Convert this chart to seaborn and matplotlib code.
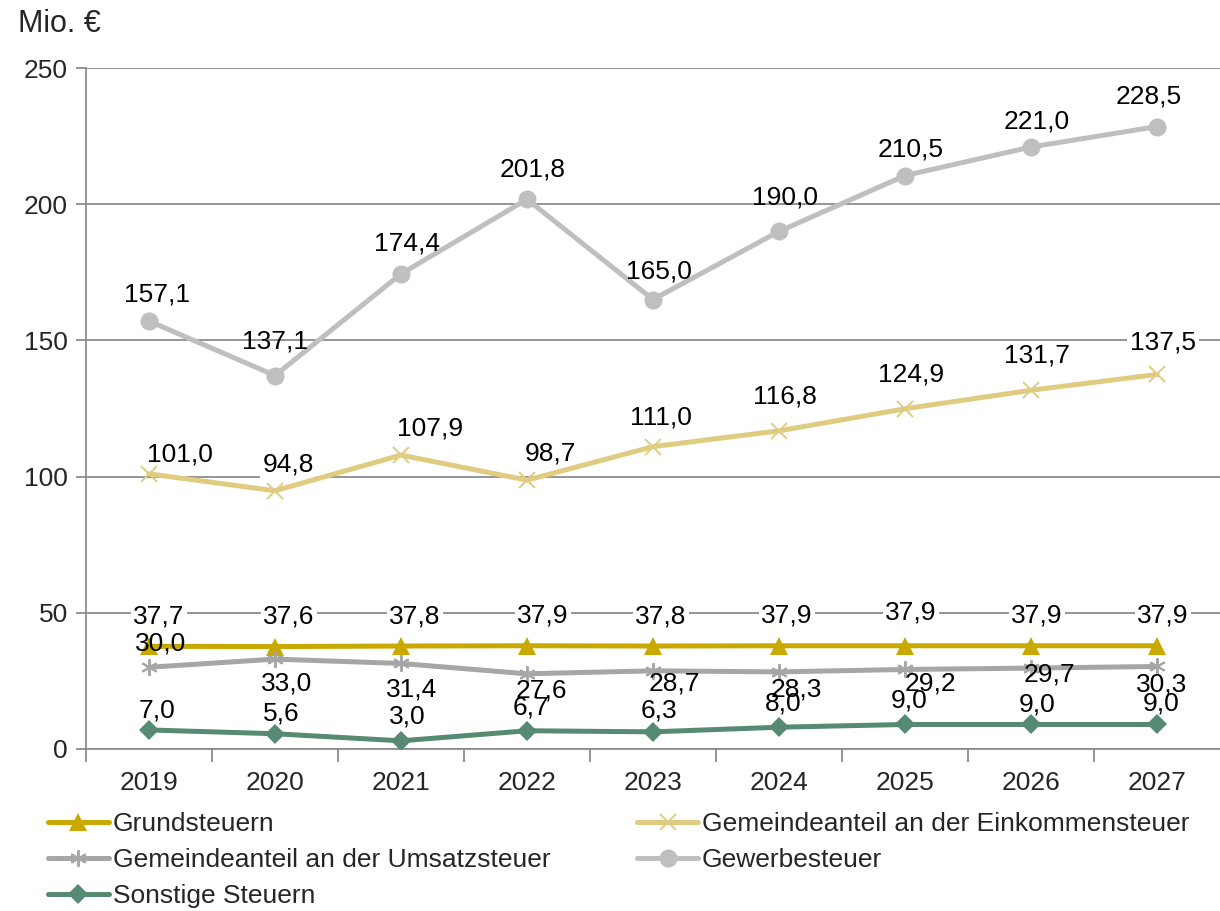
import matplotlib

matplotlib.use("Agg")
import matplotlib.pyplot as plt
import pandas as pd
import seaborn as sns

# Data
years = ["2019", "2020", "2021", "2022", "2023", "2024", "2025", "2026", "2027"]
grundsteuern = [37.7, 37.6, 37.8, 37.9, 37.8, 37.9, 37.9, 37.9, 37.9]
einkommensteuer = [101.0, 94.8, 107.9, 98.7, 111.0, 116.8, 124.9, 131.7, 137.5]
umsatzsteuer = [30.0, 33.0, 31.4, 27.6, 28.7, 28.3, 29.2, 29.7, 30.3]
gewerbesteuer = [157.1, 137.1, 174.4, 201.8, 165.0, 190.0, 210.5, 221.0, 228.5]
sonstige = [7.0, 5.6, 3.0, 6.7, 6.3, 8.0, 9.0, 9.0, 9.0]
series_names = [
    "Grundsteuern",
    "Gemeindeanteil an der Einkommensteuer",
    "Gemeindeanteil an der Umsatzsteuer",
    "Gewerbesteuer",
    "Sonstige Steuern",
]

# styles: color, marker, markersize, white label background
styles = {
    "Grundsteuern": ("#C9A800", "^", 13, True),
    "Gemeindeanteil an der Einkommensteuer": ("#E0CC80", "x", 11, True),
    "Gemeindeanteil an der Umsatzsteuer": ("#A6A6A6", (6, 2, 0), 12, False),
    "Gewerbesteuer": ("#BFBFBF", "o", 13, False),
    "Sonstige Steuern": ("#578A72", "D", 10, False),
}

# data label offsets in pixels (dx, dy), dy positive = up
label_dx = {
    "Grundsteuern": [10, 14, 14, 16, 8, 8, 6, 6, 6],
    "Gemeindeanteil an der Einkommensteuer": [31, 13, 29, 23, 8, 6, 6, 6, 6],
    "Gemeindeanteil an der Umsatzsteuer": [12, 12, 11, 14, 21, 17, 25, 18, 5],
    "Gewerbesteuer": [8, 0, 6, 6, 6, 6, 6, 6, -8],
    "Sonstige Steuern": [8, 6, 6, 4, 6, 4, 4, 6, 4],
}
label_dy = {
    "Grundsteuern": [30, 30, 30, 30, 30, 30, 33, 30, 30],
    "Gemeindeanteil an der Einkommensteuer": [19, 26, 27, 27, 29, 34, 34, 35, 32],
    "Gemeindeanteil an der Umsatzsteuer": [24, -24, -26, -17, -13, -18, -14, -6, -18],
    "Gewerbesteuer": [27, 34, 30, 30, 28, 34, 26, 25, 30],
    "Sonstige Steuern": [19, 20, 24, 23, 21, 24, 24, 20, 21],
}

values = [grundsteuern, einkommensteuer, umsatzsteuer, gewerbesteuer, sonstige]
frames = []
for name, vals in zip(series_names, values):
    frames.append(pd.DataFrame({"pos": range(len(years)), "value": vals, "series": name}))
df = pd.concat(frames, ignore_index=True)

sns.set_theme(style="white")
plt.rcParams["font.family"] = ["Liberation Sans", "DejaVu Sans"]
plt.rcParams["font.size"] = 19

fig = plt.figure(figsize=(12.2, 9.11), dpi=100)
ax = fig.add_axes([86 / 1220, 1 - 749 / 911, 1134 / 1220, 681 / 911])

px = 72 / 100  # pixel -> point

for name in series_names:
    color, marker, ms, boxed = styles[name]
    sub = df[df["series"] == name]
    thin = marker == "x" or isinstance(marker, tuple)
    sns.lineplot(
        data=sub,
        x="pos",
        y="value",
        ax=ax,
        color=color,
        marker=marker,
        markersize=ms,
        markeredgecolor=color,
        markeredgewidth=1.4 if thin else 0,
        linewidth=3.6,
        label=name,
        zorder=4,
    )
    for i, (x, v) in enumerate(zip(sub["pos"], sub["value"])):
        ax.annotate(
            f"{v:.1f}".replace(".", ","),
            (x, v),
            xytext=(label_dx[name][i] * px, label_dy[name][i] * px),
            textcoords="offset points",
            ha="center",
            va="center",
            fontsize=19,
            color="black",
            zorder=3 if boxed else 5,
            bbox=dict(boxstyle="square,pad=0.1", fc="white", ec="none") if boxed else None,
        )

ax.set_xlim(-0.5, len(years) - 0.5)
ax.set_ylim(0, 250)
ax.set_yticks([0, 50, 100, 150, 200, 250])
ax.set_xticks(range(len(years)))
ax.set_xticklabels(years)
ax.set_xticks([i + 0.5 for i in range(-1, len(years) - 1)], minor=True)
ax.set_xlabel("")
ax.set_ylabel("")
ax.yaxis.grid(True, color="#8C8C8C", linewidth=1.3, zorder=1)
ax.set_axisbelow(True)

for side in ["top", "right"]:
    ax.spines[side].set_visible(False)
for side in ["left", "bottom"]:
    ax.spines[side].set_color("#8C8C8C")
    ax.spines[side].set_linewidth(1.3)

ax.tick_params(axis="x", which="major", length=0, pad=16, labelsize=19)
ax.tick_params(axis="x", which="minor", length=9, width=1.3, color="#8C8C8C", direction="out")
ax.tick_params(axis="y", which="major", length=7, width=1.3, color="#8C8C8C", direction="out", pad=6, labelsize=19)
ax.tick_params(axis="x", bottom=True, which="minor")
ax.tick_params(axis="y", left=True)

fig.text(18 / 1220, 1 - 24 / 911, "Mio. €", fontsize=22, va="center", ha="left")

handles, labels = ax.get_legend_handles_labels()
ax.get_legend().remove()
order = [0, 2, 4, 1, 3]
fig.legend(
    [handles[i] for i in order],
    [labels[i] for i in order],
    ncol=2,
    loc="upper left",
    bbox_to_anchor=(48 / 1220, 1 - 812 / 911),
    frameon=False,
    fontsize=19,
    handlelength=2.3,
    handletextpad=0.15,
    columnspacing=3.3,
    labelspacing=0.45,
    borderaxespad=0,
    borderpad=0,
)

fig.savefig("out.png", dpi=100)
